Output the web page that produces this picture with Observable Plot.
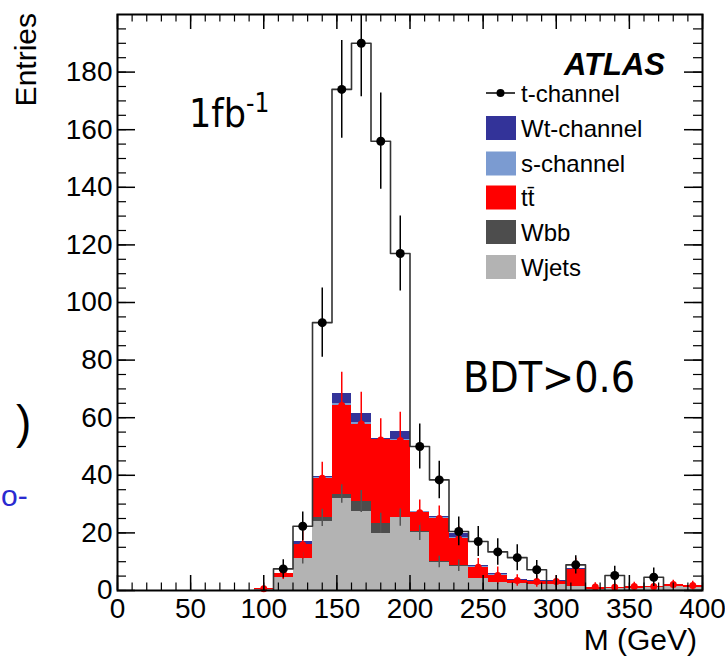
<!DOCTYPE html>
<html><head><meta charset="utf-8">
<script src="https://cdn.jsdelivr.net/npm/d3@7"></script>
<script src="https://cdn.jsdelivr.net/npm/@observablehq/plot@0.6"></script>
<style>body{margin:0;background:#fff;} svg{display:block;}</style>
</head><body><div id="chart"></div>
<script>
// ---- data (bins of width 400/30 GeV; bin index) ----
const binCount = 30;
const xMax = 400;
const bins    = [7,8,9,10,11,12,13,14,15,16,17,18,19,20,21,22,23,24,25,26,27,28,29];
const wjets   = [0.3,4.6,11.0,24.0,31.8,27.4,19.9,25.2,20.2,9.8,8.5,4.0,2.9,2.3,2.1,2.1,1.5,0.5,0.8,0.8,1.0,1.5,1.2];
const wbb     = [0,0,0.2,1.2,1.7,3.5,3.4,0.1,0.2,0.1,0.1,0,0,0,0,0,0,0,0,0,0,0,0];
const ttbar   = [0.3,1.2,4.6,13.8,30.7,26.9,29.0,26.8,6.6,15.1,9.3,4.1,2.3,1.2,1.0,1.0,5.7,0.7,0.3,0.6,0.4,0.6,0.5];
const schan   = [0,0.1,0.3,0.3,0.6,0.5,0.3,0.5,0.3,0.3,0.4,0.2,0.2,0.1,0.1,0.1,0.1,0,0,0,0,0,0];
const wtchan  = [0,0.1,0.9,0.2,3.6,3.0,0.3,2.6,0.3,0.4,1.5,0.3,0.6,0.2,0.1,0.1,0.2,0,0,0,0,0,0];
const tchan   = [0,7.5,22.3,93,174,190,156,117,50,38.4,20.5,17,13.4,11.4,7.2,0,8.9,0,5.2,0,4.6,0,0];
const tchanErr= [0,3.2,5,12,17,18.6,16.7,13,7.8,6.5,5,5.2,4.6,4.5,3.2,0,3.2,0,3.2,0,3.2,0,0];
const ttbarErr= [1,2,4.9,5.5,11.6,11,7.3,9.8,4.4,4.3,4.3,3,3,2,2,2,4,1.5,1,1.5,1,1.5,1.5];
const wbbErr  = [0,0,2,3,3.2,3.8,3.5,3,3,2,2,0,0,0,0,0,0,0,0,0,0,0,0];

const seriesNames  = ["Wjets","Wbb","ttbar","s-channel","Wt-channel"];
const seriesColors = ["#b3b3b3","#4d4d4d","#ff0000","#7b9bd1","#333399"];
const seriesValues = [wjets, wbb, ttbar, schan, wtchan];

const legendLabels = ["t-channel","Wt-channel","s-channel","tt\u0304","Wbb","Wjets"];
const xMajor = [0,50,100,150,200,250,300,350,400];
const xMinor = d3.range(0, 401, 10);
const yMajor = [0,20,40,60,80,100,120,140,160,180];
const yMinor = d3.range(0, 200, 5);

// ---- derived tables ----
const bw = xMax / binCount;
const rects = [];
const tops = [];
bins.forEach((b, i) => {
  let base = 0;
  const t = {bin: b, x: (b + 0.5) * bw};
  seriesNames.forEach((s, k) => {
    const v = seriesValues[k][i];
    rects.push({series: s, x1: b * bw, x2: (b + 1) * bw, y1: base, y2: base + v});
    base += v;
    t[s] = base;
  });
  t.ttErr = ttbarErr[i]; t.wbbErr = wbbErr[i];
  tops.push(t);
});
const tpts = bins.map((b, i) => ({x: (b + 0.5) * bw, y: tchan[i], e: tchanErr[i]})).filter(d => d.y > 0);
const step = [];
bins.forEach((b, i) => { step.push({x: b * bw, y: tchan[i]}); step.push({x: (b + 1) * bw, y: tchan[i]}); });

const W = 725, H = 656, mL = 117, mR = 23, mT = 14, mB = 66;
const pW = W - mL - mR, pH = H - mT - mB;

const chart = Plot.plot({
  width: W, height: H,
  marginLeft: mL, marginRight: mR, marginTop: mT, marginBottom: mB,
  x: {domain: [0, xMax]},
  y: {domain: [0, 200]},
  color: {domain: seriesNames, range: seriesColors},
  style: {fontFamily: "'Liberation Sans', Arial, sans-serif", fontSize: "28px", background: "white", overflow: "visible"},
  marks: [
    Plot.rect(rects, {x1: "x1", x2: "x2", y1: "y1", y2: "y2", fill: "series", shapeRendering: "crispEdges"}),
    Plot.ruleX(tops.filter(d => d.wbbErr > 0), {x: "x", y1: d => d.Wbb - d.wbbErr, y2: d => d.Wbb + d.wbbErr, stroke: "#555", strokeWidth: 1.5}),
    Plot.ruleX(tops, {x: "x", y1: d => Math.max(0, d.ttbar - d.ttErr), y2: d => d.ttbar + d.ttErr, stroke: "#ff0000", strokeWidth: 1.5}),
    Plot.dot(tops, {x: "x", y: "ttbar", r: 3.5, fill: "#ff0000"}),
    Plot.line(step, {x: "x", y: "y", stroke: "#333", strokeWidth: 1.6, clip: true}),
    Plot.ruleX(tpts, {x: "x", y1: d => d.y - d.e, y2: d => d.y + d.e, stroke: "black", strokeWidth: 1.5, clip: true}),
    Plot.dot(tpts, {x: "x", y: "y", r: 4.5, fill: "black"}),
    // inward ticks (ROOT style), on all four sides
    Plot.tickX(xMinor, {x: d => d, insetTop: pH - 7.5, stroke: "black", strokeWidth: 1.2}),
    Plot.tickX(xMajor, {x: d => d, insetTop: pH - 15, stroke: "black", strokeWidth: 1.5}),
    Plot.tickX(xMinor, {x: d => d, insetBottom: pH - 7.5, stroke: "black", strokeWidth: 1.2}),
    Plot.tickX(xMajor, {x: d => d, insetBottom: pH - 15, stroke: "black", strokeWidth: 1.5}),
    Plot.tickY(yMinor, {y: d => d, insetRight: pW - 9, stroke: "black", strokeWidth: 1.2}),
    Plot.tickY(yMajor, {y: d => d, insetRight: pW - 18, stroke: "black", strokeWidth: 1.5}),
    Plot.tickY(yMinor, {y: d => d, insetLeft: pW - 9, stroke: "black", strokeWidth: 1.2}),
    Plot.tickY(yMajor, {y: d => d, insetLeft: pW - 18, stroke: "black", strokeWidth: 1.5}),
    Plot.frame({stroke: "black", strokeWidth: 2}),
    Plot.axisX(xMajor, {tickSize: 0, tickPadding: 8, label: null, fill: "black"}),
    Plot.axisY(yMajor, {tickSize: 0, tickPadding: 5, label: null, fill: "black"})
  ]
});
document.getElementById("chart").appendChild(chart);

// ---- annotations, axis titles, legend ----
const svg = d3.select(chart);
const sans = "'Liberation Sans', Arial, sans-serif";
const cond = "'DejaVu Sans Condensed', 'DejaVu Sans', sans-serif";
const g = svg.append("g").attr("text-anchor", "start");

g.append("text").attr("transform", "translate(36,13) rotate(-90)").attr("text-anchor", "end")
  .attr("font-family", sans).attr("font-size", 30).attr("fill", "black").text("Entries");
g.append("text").attr("x", 697).attr("y", 650).attr("text-anchor", "end")
  .attr("font-family", sans).attr("font-size", 30).attr("fill", "black").text("M (GeV)");

const lum = g.append("text").attr("x", 189).attr("y", 127).attr("font-family", cond).attr("font-stretch", "condensed")
  .attr("font-size", 39).attr("fill", "black");
lum.append("tspan").text("1fb");
lum.append("tspan").attr("font-size", 26).attr("dy", -15).text("-1");

g.append("text").attr("x", 463).attr("y", 392).attr("font-family", cond).attr("font-stretch", "condensed")
  .attr("font-size", 42).attr("textLength", 172).attr("lengthAdjust", "spacingAndGlyphs").attr("fill", "black").text("BDT>0.6");

g.append("text").attr("x", 665).attr("y", 75).attr("text-anchor", "end").attr("font-family", sans)
  .attr("font-size", 31).attr("font-weight", "bold").attr("font-style", "italic").attr("fill", "black").text("ATLAS");

// stray fragments at the left edge of the slide
g.append("text").attr("x", 16).attr("y", 438).attr("font-family", sans).attr("font-size", 46).attr("fill", "black").text(")");
g.append("text").attr("x", 1).attr("y", 506).attr("font-family", sans).attr("font-size", 30).attr("fill", "#2a2ad0").text("o-");

const legendSwatch = ["line", "#333399", "#7b9bd1", "#ff0000", "#4d4d4d", "#b3b3b3"];
const legY = [93, 128, 163.5, 197.5, 232, 267];
legendLabels.forEach((lab, i) => {
  const cy = legY[i];
  if (legendSwatch[i] === "line") {
    g.append("line").attr("x1", 486).attr("x2", 515).attr("y1", cy).attr("y2", cy).attr("stroke", "black").attr("stroke-width", 1.5);
    g.append("circle").attr("cx", 500.5).attr("cy", cy).attr("r", 4).attr("fill", "black");
  } else {
    g.append("rect").attr("x", 486).attr("y", cy - 12).attr("width", 30).attr("height", 24).attr("fill", legendSwatch[i]);
  }
  g.append("text").attr("x", 521).attr("y", cy + 8.5).attr("font-family", sans).attr("font-size", 24)
    .attr("fill", "black").text(lab);
});
</script>
</body></html>
